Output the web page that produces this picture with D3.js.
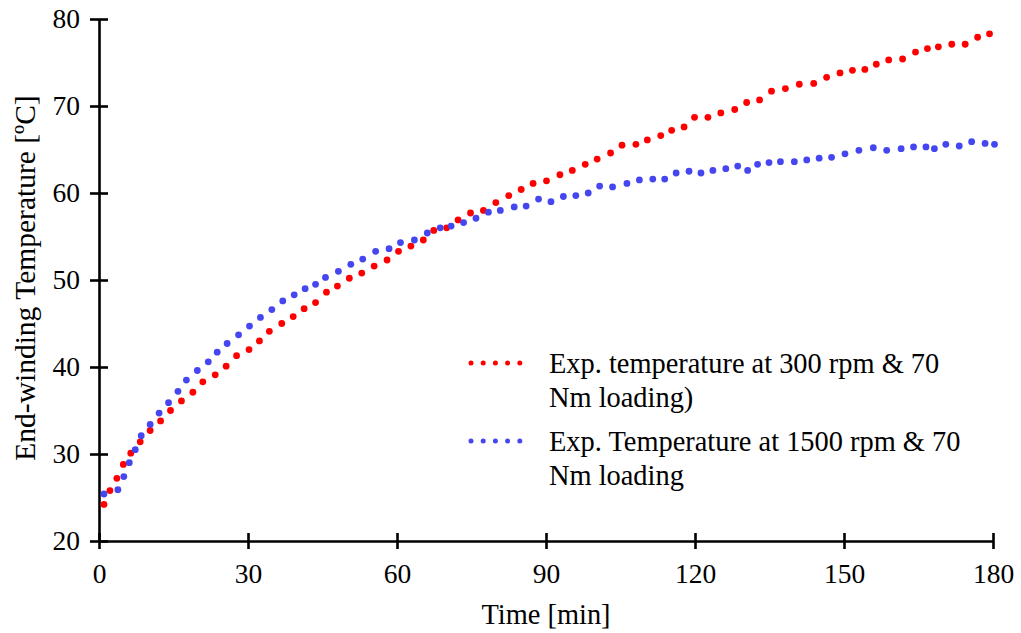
<!DOCTYPE html>
<html><head><meta charset="utf-8">
<script src="https://cdn.jsdelivr.net/npm/d3@7/dist/d3.min.js"></script>
<style>body{margin:0;background:#fff}svg{display:block}svg text{font-family:'Liberation Serif',serif !important}</style>
</head><body><svg id="c" width="1021" height="633" font-family="Liberation Serif, serif"></svg>
<script>
const xTicks=[0,30,60,90,120,150,180];
const yTicks=[20,30,40,50,60,70,80];
const redT=[1.0,2.2,3.6,4.9,6.4,8.3,10.3,12.4,14.4,16.6,18.9,20.9,23.4,25.6,27.7,30.2,32.3,34.3,36.8,39.1,41.3,43.6,45.8,48.0,50.4,52.9,55.4,58.0,60.3,62.8,65.3,67.4,70.0,72.3,74.8,77.4,79.9,82.5,85.0,87.4,90.1,92.8,95.3,97.9,100.3,103.0,105.3,108.1,110.4,113.1,115.3,117.8,119.9,122.6,125.2,128.0,130.4,133.0,135.4,138.2,141.0,143.9,146.5,149.2,151.7,154.2,156.5,159.0,161.8,164.4,166.8,169.0,171.7,174.4,176.9,179.3];
const redV=[24.2,25.8,27.2,28.8,30.1,31.4,32.7,33.8,35.0,36.1,37.1,38.3,39.1,40.1,41.3,42.0,43.0,44.1,45.0,45.8,46.7,47.4,48.6,49.3,50.2,50.8,51.6,52.3,53.3,53.9,54.6,55.7,56.0,56.9,57.7,58.0,58.9,59.7,60.4,61.1,61.4,62.1,62.6,63.3,63.9,64.6,65.5,65.6,66.1,66.6,67.2,67.6,68.7,68.7,69.2,69.6,70.4,70.7,71.7,72.0,72.5,72.6,73.3,73.8,74.1,74.2,74.8,75.3,75.4,76.2,76.6,76.8,77.1,77.1,77.9,78.3];
const blueT=[1.0,3.8,5.0,6.1,7.3,8.5,10.3,12.1,14.0,15.9,17.6,19.8,22.0,23.8,25.8,28.1,30.3,32.5,34.8,37.0,39.3,41.5,43.6,45.6,48.2,50.7,53.1,55.7,58.4,60.7,63.5,66.1,68.7,70.9,73.4,75.9,78.4,80.8,83.6,86.0,88.5,91.0,93.5,96.0,98.5,100.8,103.4,106.3,108.8,111.5,113.9,116.2,118.8,121.2,123.6,126.2,128.6,130.6,132.6,134.9,137.2,140.0,142.5,145.0,147.5,150.2,153.0,155.9,158.6,161.5,164.0,166.5,168.2,170.5,173.2,175.7,178.4,180.3];
const blueV=[25.4,25.9,27.4,29.0,30.5,32.1,33.4,34.7,35.9,37.2,38.5,39.6,40.6,41.7,42.7,43.7,44.7,45.7,46.6,47.6,48.3,49.0,49.5,50.3,51.0,51.8,52.4,53.3,53.6,54.3,54.6,55.4,56.0,56.2,56.6,57.1,57.8,58.0,58.4,58.5,59.3,59.0,59.6,59.7,60.0,60.8,60.7,61.1,61.5,61.6,61.6,62.3,62.5,62.3,62.6,62.8,63.1,62.6,63.3,63.5,63.6,63.6,63.8,64.0,64.1,64.5,64.9,65.2,64.9,65.1,65.3,65.3,65.1,65.6,65.4,65.9,65.7,65.6];
const seriesNames=["Exp. temperature at 300 rpm & 70|Nm loading)","Exp. Temperature at 1500 rpm & 70|Nm loading"];
const colors=["#FF0000","#4646F0"];

const svg=d3.select("#c");
const x=d3.scaleLinear().domain([0,180]).range([99,993]);
const y=d3.scaleLinear().domain([20,80]).range([541,19]);
const FS=27.5, FL=28.4, FY=29.5;
const FF="Liberation Serif, serif";

// axes
const ya=svg.append("g").attr("transform","translate(99,0)")
 .call(d3.axisLeft(y).tickValues(yTicks).tickSizeOuter(0).tickSizeInner(8).tickPadding(11));
ya.selectAll(".tick line").attr("x1",-9).attr("x2",9);
const xa=svg.append("g").attr("transform","translate(0,541)")
 .call(d3.axisBottom(x).tickValues(xTicks).tickSizeOuter(0).tickSizeInner(8).tickPadding(14));
xa.selectAll(".tick line").attr("y1",-8).attr("y2",8);
[ya,xa].forEach(a=>{
 a.attr("font-family",FF).attr("font-size",FS);
 a.selectAll("path.domain,.tick line").attr("stroke","#000").attr("stroke-width",2.6);
 a.selectAll("text").attr("font-size",FS).attr("fill","#000").attr("font-family",FF);
});
ya.selectAll("text").attr("x",-19);

svg.append("text").attr("x",546).attr("y",624).attr("text-anchor","middle").attr("font-size",FL).attr("font-family",FF).text("Time [min]");
svg.append("text").attr("transform","translate(35,278) rotate(-90)").attr("text-anchor","middle").attr("font-size",FY).attr("font-family",FF).text("End-winding Temperature [ºC]");

// data
const data=[redT.map((t,i)=>[t,redV[i]]), blueT.map((t,i)=>[t,blueV[i]])];
data.forEach((d,k)=>{
 svg.append("g").selectAll("circle").data(d).join("circle")
  .attr("cx",p=>x(p[0])).attr("cy",p=>y(p[1])).attr("r",3.4).attr("fill",colors[k]);
});

// legend
const legY=[363,441];
seriesNames.forEach((n,k)=>{
 svg.append("line").attr("x1",471).attr("x2",530).attr("y1",legY[k]).attr("y2",legY[k])
  .attr("stroke",colors[k]).attr("stroke-width",5).attr("stroke-linecap","round").attr("stroke-dasharray","0,12.2");
 const lines=n.split("|");
 lines.forEach((l,j)=>{
  svg.append("text").attr("x",549).attr("y",legY[k]+10+j*33.5).attr("font-size",FL).attr("font-family",FF).text(l);
 });
});
</script></body></html>
